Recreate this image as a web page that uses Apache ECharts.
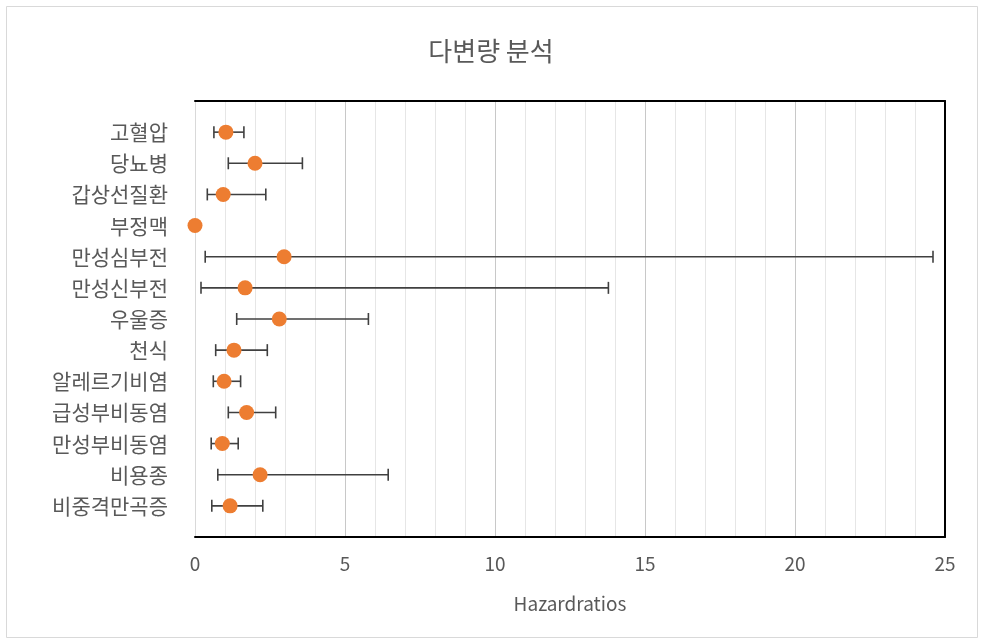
<!DOCTYPE html>
<html>
<head>
<meta charset="utf-8">
<script src="https://cdn.jsdelivr.net/npm/echarts@6/dist/echarts.min.js"></script>
<style>
  html, body { margin: 0; padding: 0; background: #fff; }
  #chart { width: 982px; height: 642px; }
</style>
</head>
<body>
<div id="chart"></div>
<script>
// 질환 목록 (위에서 아래 순서)
var diseases = ['고혈압', '당뇨병', '갑상선질환', '부정맥', '만성심부전', '만성신부전', '우울증',
  '천식', '알레르기비염', '급성부비동염', '만성부비동염', '비용종', '비중격만곡증'];
// hazard ratio
var hr = [1.03, 2.0, 0.94, 0.0, 2.97, 1.67, 2.81, 1.3, 0.97, 1.72, 0.91, 2.17, 1.17];
// 95% CI 하한 / 상한 (부정맥은 없음)
var ciLow = [0.63, 1.11, 0.41, null, 0.34, 0.2, 1.39, 0.69, 0.61, 1.11, 0.54, 0.76, 0.56];
var ciHigh = [1.63, 3.58, 2.36, null, 24.6, 13.78, 5.78, 2.41, 1.52, 2.69, 1.44, 6.44, 2.26];
var xTicks = [0, 5, 10, 15, 20, 25];

var txt = '#595959';
var font = '"Noto Sans CJK KR", "Noto Sans", sans-serif';

var pointData = hr.map(function (v, i) { return [v, i + 1]; });
var barData = [];
diseases.forEach(function (d, i) {
  if (ciLow[i] != null) barData.push([ciLow[i], ciHigh[i], i + 1]);
});

var chart = echarts.init(document.getElementById('chart'));
chart.setOption({
  animation: false,
  backgroundColor: '#fff',
  textStyle: { fontFamily: font },
  title: {
    text: '다변량 분석',
    left: 'center',
    top: 33,
    textStyle: { color: txt, fontSize: 26, fontWeight: 'normal', fontFamily: font }
  },
  graphic: [{
    type: 'rect',
    shape: { x: 6.5, y: 6.5, width: 971, height: 631 },
    style: { fill: 'none', stroke: '#d9d9d9', lineWidth: 1 },
    silent: true
  }],
  grid: { left: 195, right: 37, top: 101, bottom: 105 },
  xAxis: [{
    type: 'value',
    min: 0,
    max: 25,
    interval: 5,
    name: 'Hazardratios',
    nameLocation: 'middle',
    nameGap: 57,
    nameTextStyle: { color: txt, fontSize: 19, fontFamily: font },
    axisLine: { show: true, onZero: false, lineStyle: { color: '#000', width: 2 } },
    axisTick: { show: false },
    axisLabel: { color: txt, fontSize: 19, margin: 17,
      formatter: function (v) { return xTicks.indexOf(v) >= 0 ? String(v) : ''; } },
    splitLine: { show: true, showMinLine: false, lineStyle: { color: '#c8c8c8', width: 1 } },
    minorTick: { show: false, splitNumber: 5 },
    minorSplitLine: { show: true, lineStyle: { color: '#e6e6e6', width: 1 } }
  }, {
    type: 'value',
    position: 'top',
    min: 0,
    max: 25,
    interval: 5,
    axisLine: { show: true, onZero: false, lineStyle: { color: '#000', width: 2 } },
    axisTick: { show: false },
    axisLabel: { show: false },
    splitLine: { show: false }
  }],
  yAxis: [{
    type: 'value',
    min: 0,
    max: 14,
    interval: 1,
    inverse: true,
    axisLine: { show: true, onZero: false, lineStyle: { color: '#d9d9d9', width: 1 } },
    axisTick: { show: false },
    splitLine: { show: false },
    axisLabel: {
      color: txt,
      fontSize: 21,
      margin: 27,
      formatter: function (v) { return diseases[v - 1] || ''; }
    }
  }, {
    type: 'value',
    position: 'right',
    min: 0,
    max: 14,
    interval: 1,
    inverse: true,
    axisLine: { show: true, onZero: false, lineStyle: { color: '#000', width: 2 } },
    axisTick: { show: false },
    axisLabel: { show: false },
    splitLine: { show: false }
  }],
  series: [{
    type: 'custom',
    name: 'CI',
    data: barData,
    z: 3,
    renderItem: function (params, api) {
      var y = api.value(2);
      var p1 = api.coord([api.value(0), y]);
      var p2 = api.coord([api.value(1), y]);
      var h = 6;
      var st = { stroke: '#404040', lineWidth: 1.6 };
      return {
        type: 'group',
        children: [
          { type: 'line', shape: { x1: p1[0], y1: p1[1], x2: p2[0], y2: p2[1] }, style: st },
          { type: 'line', shape: { x1: p1[0], y1: p1[1] - h, x2: p1[0], y2: p1[1] + h }, style: st },
          { type: 'line', shape: { x1: p2[0], y1: p2[1] - h, x2: p2[0], y2: p2[1] + h }, style: st }
        ]
      };
    }
  }, {
    type: 'scatter',
    name: 'HR',
    data: pointData,
    z: 4,
    symbolSize: 15,
    itemStyle: { color: '#ed7d31', opacity: 1 }
  }]
});
</script>
</body>
</html>
